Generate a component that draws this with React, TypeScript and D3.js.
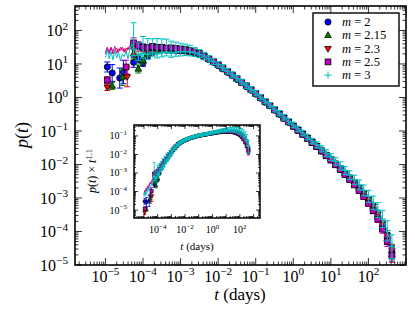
import React from 'react';
import * as d3 from 'd3';

// ---------- data (log10 values) ----------
const gridLogT = [-4.25,-4.125,-4.0,-3.875,-3.75,-3.625,-3.5,-3.375,-3.25,-3.125,-3.0,-2.875,-2.75,-2.625,-2.5,-2.375,-2.25,-2.125,-2.0,-1.875,-1.75,-1.625,-1.5,-1.375,-1.25,-1.125,-1.0,-0.875,-0.75,-0.625,-0.5,-0.375,-0.25,-0.125,0,0.125,0.25,0.375,0.5,0.625,0.75,0.875,1.0,1.125,1.25,1.375,1.5,1.625,1.75,1.875,2.0,2.125,2.25,2.375,2.5,2.625];

const logP_m2 = [1.05,1.15,1.03,1.25,1.35,1.40,1.42,1.41,1.40,1.40,1.39,1.38,1.36,1.32,1.28,1.21,1.13,1.05,0.95,0.85,0.75,0.66,0.54,0.44,0.32,0.22,0.10,-0.02,-0.14,-0.25,-0.38,-0.50,-0.62,-0.74,-0.86,-0.98,-1.10,-1.22,-1.34,-1.47,-1.60,-1.73,-1.86,-1.99,-2.13,-2.27,-2.42,-2.57,-2.73,-2.90,-3.08,-3.29,-3.53,-3.83,-4.18,-4.62];
const logP_m215 = [1.30,0.85,1.10,1.30,1.40,1.43,1.44,1.42,1.42,1.41,1.40,1.39,1.37,1.33,1.29,1.22,1.14,1.06,0.96,0.86,0.77,0.66,0.55,0.45,0.33,0.23,0.11,-0.01,-0.13,-0.25,-0.37,-0.49,-0.61,-0.73,-0.85,-0.97,-1.09,-1.21,-1.33,-1.45,-1.58,-1.71,-1.84,-1.98,-2.12,-2.26,-2.40,-2.56,-2.72,-2.89,-3.09,-3.30,-3.55,-3.86,-4.22,-4.68];
const logP_m23 = [1.45,1.50,1.42,1.46,1.45,1.47,1.45,1.45,1.43,1.43,1.42,1.40,1.38,1.35,1.30,1.23,1.15,1.06,0.97,0.87,0.77,0.67,0.56,0.45,0.34,0.23,0.12,0.00,-0.12,-0.24,-0.36,-0.48,-0.60,-0.72,-0.84,-0.96,-1.08,-1.20,-1.32,-1.44,-1.57,-1.70,-1.83,-1.96,-2.10,-2.24,-2.38,-2.53,-2.69,-2.86,-3.05,-3.25,-3.48,-3.78,-4.12,-4.58];
const logP_m25 = [1.63,1.55,1.50,1.48,1.52,1.49,1.50,1.47,1.48,1.46,1.45,1.43,1.40,1.36,1.31,1.24,1.16,1.07,0.98,0.88,0.78,0.67,0.57,0.45,0.35,0.23,0.12,0.00,-0.13,-0.24,-0.37,-0.49,-0.62,-0.73,-0.86,-0.98,-1.10,-1.22,-1.35,-1.47,-1.60,-1.74,-1.87,-2.01,-2.15,-2.30,-2.45,-2.61,-2.78,-2.96,-3.16,-3.38,-3.63,-3.93,-4.30,-4.72];
const logP_m3 = [1.45,1.25,1.32,1.28,1.35,1.30,1.33,1.36,1.32,1.35,1.36,1.37,1.36,1.33,1.29,1.23,1.15,1.07,0.98,0.88,0.78,0.68,0.57,0.46,0.35,0.24,0.13,0.01,-0.11,-0.23,-0.35,-0.47,-0.59,-0.71,-0.82,-0.94,-1.06,-1.18,-1.30,-1.41,-1.53,-1.66,-1.78,-1.91,-2.04,-2.18,-2.32,-2.46,-2.61,-2.77,-2.95,-3.14,-3.36,-3.63,-3.98,-4.45];

// error bars (dex)
const errShared = [0.15,0.12,0.1,0.09,0.08,0.08,0.07,0.07,0.06,0.06,0.05,0.05,0.05,0.045,0.045,0.04,0.04,0.04,0.035,0.035,0.035,0.03,0.03,0.03,0.03,0.03,0.03,0.03,0.03,0.03,0.03,0.03,0.03,0.03,0.03,0.03,0.03,0.03,0.03,0.035,0.035,0.04,0.04,0.045,0.05,0.05,0.055,0.06,0.065,0.07,0.08,0.09,0.1,0.12,0.15,0.2];
const errUp_m3 = [0.78,0.4,0.5,0.48,0.4,0.46,0.42,0.38,0.36,0.3,0.26,0.22,0.2,0.16,0.14,0.12,0.1,0.1,0.09,0.09,0.08,0.08,0.08,0.08,0.08,0.08,0.08,0.08,0.08,0.08,0.08,0.08,0.08,0.08,0.08,0.08,0.08,0.08,0.08,0.09,0.09,0.1,0.1,0.11,0.12,0.12,0.13,0.14,0.15,0.16,0.18,0.2,0.22,0.25,0.3,0.35];
const errDn_m3 = [0.2,0.15,0.15,0.15,0.12,0.12,0.12,0.12,0.12,0.12,0.12,0.12,0.12,0.1,0.1,0.1,0.09,0.09,0.08,0.08,0.08,0.08,0.08,0.08,0.08,0.08,0.08,0.08,0.08,0.08,0.08,0.08,0.08,0.08,0.08,0.08,0.08,0.08,0.08,0.09,0.09,0.1,0.1,0.11,0.12,0.12,0.13,0.14,0.15,0.16,0.18,0.2,0.22,0.25,0.3,0.35];

// early sparse points
const earlyT_m2 = [-4.95,-4.82,-4.62,-4.52];
const earlyP_m2 = [0.91,0.73,0.58,0.76];
const earlyE_m2 = [0.15,0.25,0.3,0.35];
const earlyT_m215 = [-4.82,-4.55];
const earlyP_m215 = [0.34,0.61];
const earlyE_m215 = [0.1,0.25];
const earlyT_m23 = [-4.95,-4.42];
const earlyP_m23 = [0.31,0.62];
const earlyE_m23 = [0.1,0.3];
const earlyT_m25 = [-4.95,-4.45];
const earlyP_m25 = [0.52,0.91];
const earlyE_m25 = [0.1,0.2];

// dense fluctuating lines at the earliest times
const zigT = [-5.0,-4.95,-4.9,-4.85,-4.8,-4.75,-4.7,-4.65,-4.6,-4.55,-4.5,-4.45,-4.4,-4.35,-4.3];
const zig_m3 = [1.2,1.42,1.15,1.38,1.12,1.4,1.18,1.35,1.1,1.3,1.22,1.38,1.15,1.45,1.6];
const zig_m25 = [1.35,1.5,1.3,1.48,1.38,1.52,1.32,1.45,1.4,1.5,1.35,1.47,1.42,1.55,1.62];
const zig_m23 = [1.3,1.45,1.38,1.5,1.3,1.42,1.47,1.35,1.5,1.4,1.46,1.33,1.5,1.45,1.5];

const legendLabels = ['2', '2.15', '2.3', '2.5', '3'];
const colors = ['#0000ff', '#007f00', '#ff0000', '#bf00bf', '#00bfbf'];
const markers = ['circle', 'tri', 'tridown', 'square', 'plus'];
const mainXTicks = [-5, -4, -3, -2, -1, 0, 1, 2];
const mainYTicks = [-5, -4, -3, -2, -1, 0, 1, 2];
const insetXLabels = [-4, -2, 0, 2];
const insetYTicks = [-5, -4, -3, -2, -1];
const insetExp = 1.1;

type Pt = { lt: number; lp: number; up: number; dn: number };

function buildSeries() {
  const grids = [logP_m2, logP_m215, logP_m23, logP_m25, logP_m3];
  const early: [number[], number[], number[]][] = [
    [earlyT_m2, earlyP_m2, earlyE_m2],
    [earlyT_m215, earlyP_m215, earlyE_m215],
    [earlyT_m23, earlyP_m23, earlyE_m23],
    [earlyT_m25, earlyP_m25, earlyE_m25],
    [[], [], []],
  ];
  const zigs: (number[] | null)[] = [null, null, zig_m23, zig_m25, zig_m3];
  return grids.map((g, i) => {
    const pts: Pt[] = [];
    early[i][0].forEach((lt, j) => pts.push({ lt, lp: early[i][1][j], up: early[i][2][j], dn: early[i][2][j] }));
    const gridPts: Pt[] = gridLogT.map((lt, j) => ({
      lt, lp: g[j],
      up: i === 4 ? errUp_m3[j] : errShared[j],
      dn: i === 4 ? errDn_m3[j] : errShared[j],
    }));
    const z = zigs[i];
    const linePts: { lt: number; lp: number }[] = [];
    if (z) zigT.forEach((lt, j) => linePts.push({ lt, lp: z[j] }));
    gridPts.forEach(p => linePts.push({ lt: p.lt, lp: p.lp }));
    return { color: colors[i], marker: markers[i], pts: [...pts, ...gridPts], line: linePts };
  });
}

const SERIES = buildSeries();
const FONT = "'Liberation Serif'";
const FS = { fontFamily: FONT };

function Marker({ kind, x, y, color, s }: { kind: string; x: number; y: number; color: string; s: number }) {
  const ew = 0.8 * Math.min(1, s + 0.2);
  if (kind === 'circle') return <circle cx={x} cy={y} r={3.1 * s} fill={color} stroke="#000" strokeWidth={ew} />;
  if (kind === 'square') return <rect x={x - 2.9 * s} y={y - 2.9 * s} width={5.8 * s} height={5.8 * s} fill={color} stroke="#000" strokeWidth={ew} />;
  if (kind === 'tri') {
    const r = 3.6 * s;
    return <polygon points={`${x},${y - r} ${x + r * 0.92},${y + r * 0.6} ${x - r * 0.92},${y + r * 0.6}`} fill={color} stroke="#000" strokeWidth={ew} />;
  }
  if (kind === 'tridown') {
    const r = 3.6 * s;
    return <polygon points={`${x},${y + r} ${x + r * 0.92},${y - r * 0.6} ${x - r * 0.92},${y - r * 0.6}`} fill={color} stroke="#000" strokeWidth={ew} />;
  }
  const r = 3.6 * s;
  return <path d={`M${x - r},${y}H${x + r}M${x},${y - r}V${y + r}`} stroke={color} strokeWidth={1} fill="none" />;
}

function Pow({ x, y, e, size, anchor }: { x: number; y: number; e: number; size: number; anchor: string }) {
  return (
    <text x={x} y={y} fontSize={size} textAnchor={anchor} style={FS} fill="#000">
      10<tspan dy={-0.42 * size} fontSize={size * 0.7}>{e < 0 ? '\u2212' + -e : String(e)}</tspan>
    </text>
  );
}

function logTicks(domain: number[]) {
  const lo = Math.log10(domain[0]), hi = Math.log10(domain[1]);
  const major: number[] = [], minor: number[] = [];
  for (let d = Math.floor(lo); d <= Math.ceil(hi); d++) {
    for (let k = 1; k <= 9; k++) {
      const v = k * Math.pow(10, d);
      const lv = Math.log10(v);
      if (lv < lo - 1e-9 || lv > hi + 1e-9) continue;
      (k === 1 ? major : minor).push(v);
    }
  }
  return { major, minor };
}

function Panel({ x, y, transform, clipId, ps, lw, cap }: any) {
  return (
    <g clipPath={`url(#${clipId})`}>
      {SERIES.map((ser, i) => {
        const line = d3.line<{ lt: number; lp: number }>()
          .x(d => x(Math.pow(10, d.lt)))
          .y(d => y(Math.pow(10, transform(d.lt, d.lp))));
        return (
          <g key={i}>
            {ser.pts.map((p, j) => {
              const cx = x(Math.pow(10, p.lt));
              const yt = y(Math.pow(10, transform(p.lt, p.lp + p.up)));
              const yb = y(Math.pow(10, transform(p.lt, p.lp - p.dn)));
              return (
                <g key={j} stroke={ser.color} strokeWidth={lw}>
                  <line x1={cx} x2={cx} y1={yt} y2={yb} />
                  <line x1={cx - cap} x2={cx + cap} y1={yt} y2={yt} />
                  <line x1={cx - cap} x2={cx + cap} y1={yb} y2={yb} />
                </g>
              );
            })}
            <path d={line(ser.line) || ''} fill="none" stroke={ser.color} strokeWidth={lw} />
            {ser.pts.map((p, j) => (
              <Marker key={j} kind={ser.marker} x={x(Math.pow(10, p.lt))} y={y(Math.pow(10, transform(p.lt, p.lp)))} color={ser.color} s={ps} />
            ))}
          </g>
        );
      })}
    </g>
  );
}

function Axes({ x, y, majLen, minLen }: any) {
  const [x0, x1] = x.range();
  const [y0, y1] = y.range();
  const xt = logTicks(x.domain());
  const yt = logTicks(y.domain());
  const segs: string[] = [];
  xt.major.forEach((v: number) => { const px = x(v); segs.push(`M${px},${y0}v${-majLen}M${px},${y1}v${majLen}`); });
  xt.minor.forEach((v: number) => { const px = x(v); segs.push(`M${px},${y0}v${-minLen}M${px},${y1}v${minLen}`); });
  yt.major.forEach((v: number) => { const py = y(v); segs.push(`M${x0},${py}h${majLen}M${x1},${py}h${-majLen}`); });
  yt.minor.forEach((v: number) => { const py = y(v); segs.push(`M${x0},${py}h${minLen}M${x1},${py}h${-minLen}`); });
  return <path d={segs.join('')} stroke="#000" strokeWidth={0.8} fill="none" />;
}

export default function App() {
  const xMain = d3.scaleLog().domain([Math.pow(10, -5.81), 1e3]).range([75, 406]);
  const yMain = d3.scaleLog().domain([1e-5, Math.pow(10, 2.73)]).range([265, 6]);
  const xIn = d3.scaleLog().domain([Math.pow(10, -5.73), Math.pow(10, 3.47)]).range([134, 260]);
  const yIn = d3.scaleLog().domain([Math.pow(10, -5.43), Math.pow(10, -0.41)]).range([218, 125]);

  const idT = (lt: number, lp: number) => lp;
  const scaledT = (lt: number, lp: number) => lp + insetExp * lt;

  return (
    <svg width={415} height={312} style={{ display: 'block', position: 'absolute', left: 0, top: 0, fontFamily: FONT }}>
      <defs>
        <clipPath id="cm"><rect x={75} y={6} width={331} height={259} /></clipPath>
        <clipPath id="ci"><rect x={134} y={125} width={126} height={93} /></clipPath>
      </defs>
      <rect width={415} height={312} fill="#fff" />
      <Panel x={xMain} y={yMain} transform={idT} clipId="cm" ps={1} lw={1} cap={3} />
      <Axes x={xMain} y={yMain} majLen={7} minLen={3.5} />
      <rect x={75} y={6} width={331} height={259} fill="none" stroke="#000" strokeWidth={1.6} />
      {mainXTicks.map(e => <Pow key={e} x={xMain(Math.pow(10, e))} y={282} e={e} size={16} anchor="middle" />)}
      {mainYTicks.map(e => <Pow key={e} x={68} y={yMain(Math.pow(10, e)) + 6} e={e} size={16} anchor="end" />)}
      <text x={240} y={300} fontSize={17} textAnchor="middle" style={FS}><tspan fontStyle="italic">t</tspan> (days)</text>
      <text transform="translate(28,135) rotate(-90)" fontSize={18} textAnchor="middle" style={FS}><tspan fontStyle="italic">p</tspan>(<tspan fontStyle="italic">t</tspan>)</text>

      {/* inset */}
      <rect x={134} y={125} width={126} height={93} fill="#fff" />
      <Panel x={xIn} y={yIn} transform={scaledT} clipId="ci" ps={0.55} lw={0.8} cap={1.5} />
      <Axes x={xIn} y={yIn} majLen={4} minLen={2} />
      <rect x={134} y={125} width={126} height={93} fill="none" stroke="#000" strokeWidth={1.5} />
      {insetXLabels.map(e => <Pow key={e} x={xIn(Math.pow(10, e))} y={233} e={e} size={10} anchor="middle" />)}
      {insetYTicks.map(e => <Pow key={e} x={127} y={yIn(Math.pow(10, e)) + 3.5} e={e} size={10} anchor="end" />)}
      <text x={197} y={250} fontSize={11} textAnchor="middle" style={FS}><tspan fontStyle="italic">t</tspan> (days)</text>
      <text transform="translate(96,171) rotate(-90)" fontSize={12} textAnchor="middle" style={FS}>
        <tspan fontStyle="italic">p</tspan>(<tspan fontStyle="italic">t</tspan>) × <tspan fontStyle="italic">t</tspan><tspan dy={-4.5} fontSize={8.5}>1.1</tspan>
      </text>

      {/* legend */}
      <rect x={313} y={13} width={86} height={73} fill="#fff" stroke="#000" strokeWidth={1.4} />
      {legendLabels.map((lab, i) => {
        const cy = 22 + i * 13.3;
        return (
          <g key={i}>
            <Marker kind={markers[i]} x={328} y={cy} color={colors[i]} s={1} />
            <text x={342} y={cy + 4} fontSize={12.5} style={FS}><tspan fontStyle="italic">m</tspan> = {lab}</text>
          </g>
        );
      })}
    </svg>
  );
}
